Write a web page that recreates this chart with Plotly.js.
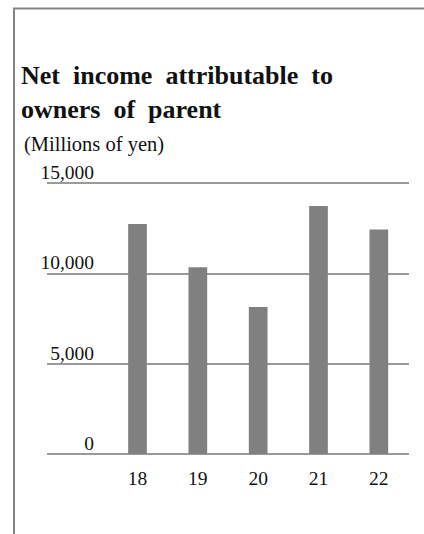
<!DOCTYPE html>
<html>
<head>
<meta charset="utf-8">
<script src="https://cdn.plot.ly/plotly-3.0.1.min.js"></script>
<style>
html, body { margin: 0; padding: 0; background: #fff; }
#chart { width: 424px; height: 534px; }
</style>
</head>
<body>
<div id="chart"></div>
<script>
// Data
var categories = ['18', '19', '20', '21', '22'];
var netIncome = [12750, 10350, 8150, 13750, 12450];
var yTickValues = [0, 5000, 10000, 15000];
var yTickLabels = ['0', '5,000', '10,000', '15,000'];

var W = 424, H = 534;
var yTop = 15300;
var L = 47, R = 15, T = 178, B = 80;
var pw = W - L - R, ph = H - T - B;
function px2x(px) { return (px - L) / pw; }
function px2y(py) { return (H - B - py) / ph; }

var serif = 'Liberation Serif, Times New Roman, serif';
var titleStyle = 'font-family:Liberation Serif, Times New Roman, serif;font-weight:bold';
var sp = '\u00a0 ';
var titleLine1 = ['Net', 'income', 'attributable', 'to'].join(sp);
var titleLine2 = ['owners', 'of', 'parent'].join(sp);

var trace = {
  type: 'bar',
  x: categories,
  y: netIncome,
  width: 0.31,
  marker: { color: '#808080', line: { width: 0 } },
  hoverinfo: 'x+y'
};

var layout = {
  width: W, height: H,
  margin: { l: L, r: R, t: T, b: B, pad: 0 },
  paper_bgcolor: '#ffffff',
  plot_bgcolor: '#ffffff',
  showlegend: false,
  font: { family: serif },
  title: {
    text: '<span style="' + titleStyle + '">' + titleLine1 + '</span><br>' +
          '<span style="' + titleStyle + '">' + titleLine2 + '</span>',
    font: { family: serif, size: 26, color: '#111111' },
    xref: 'container', yref: 'container',
    x: 21 / W, xanchor: 'left',
    y: 1 - 84 / H, yanchor: 'top'
  },
  xaxis: {
    type: 'category',
    range: [-1.5, 4.5],
    showgrid: false,
    zeroline: false,
    showline: false,
    ticks: '',
    tickfont: { family: serif, size: 19.5, color: '#111111' },
    ticklabelstandoff: 10,
    fixedrange: true
  },
  yaxis: {
    range: [0, yTop],
    tickvals: yTickValues,
    ticktext: yTickLabels,
    showgrid: true,
    gridcolor: '#9a9a9a',
    gridwidth: 2,
    zeroline: true,
    zerolinecolor: '#9a9a9a',
    zerolinewidth: 2,
    showline: false,
    ticks: '',
    tickfont: { family: serif, size: 19.5, color: '#111111' },
    ticklabelposition: 'outside',
    ticklabelstandoff: -48,
    ticklabelshift: -11,
    fixedrange: true
  },
  annotations: [{
    text: '(Millions of yen)',
    xref: 'paper', yref: 'paper',
    x: px2x(22), y: px2y(131),
    xanchor: 'left', yanchor: 'top',
    showarrow: false,
    font: { family: serif, size: 20.5, color: '#111111' }
  }],
  shapes: [
    { type: 'line', xref: 'paper', yref: 'paper',
      x0: px2x(14), x1: px2x(14), y0: px2y(8), y1: px2y(540),
      line: { color: '#858585', width: 2 } },
    { type: 'line', xref: 'paper', yref: 'paper',
      x0: px2x(13), x1: px2x(430), y0: px2y(8.5), y1: px2y(8.5),
      line: { color: '#858585', width: 2 } }
  ]
};

Plotly.newPlot('chart', [trace], layout, { displayModeBar: false, staticPlot: true });
</script>
</body>
</html>
